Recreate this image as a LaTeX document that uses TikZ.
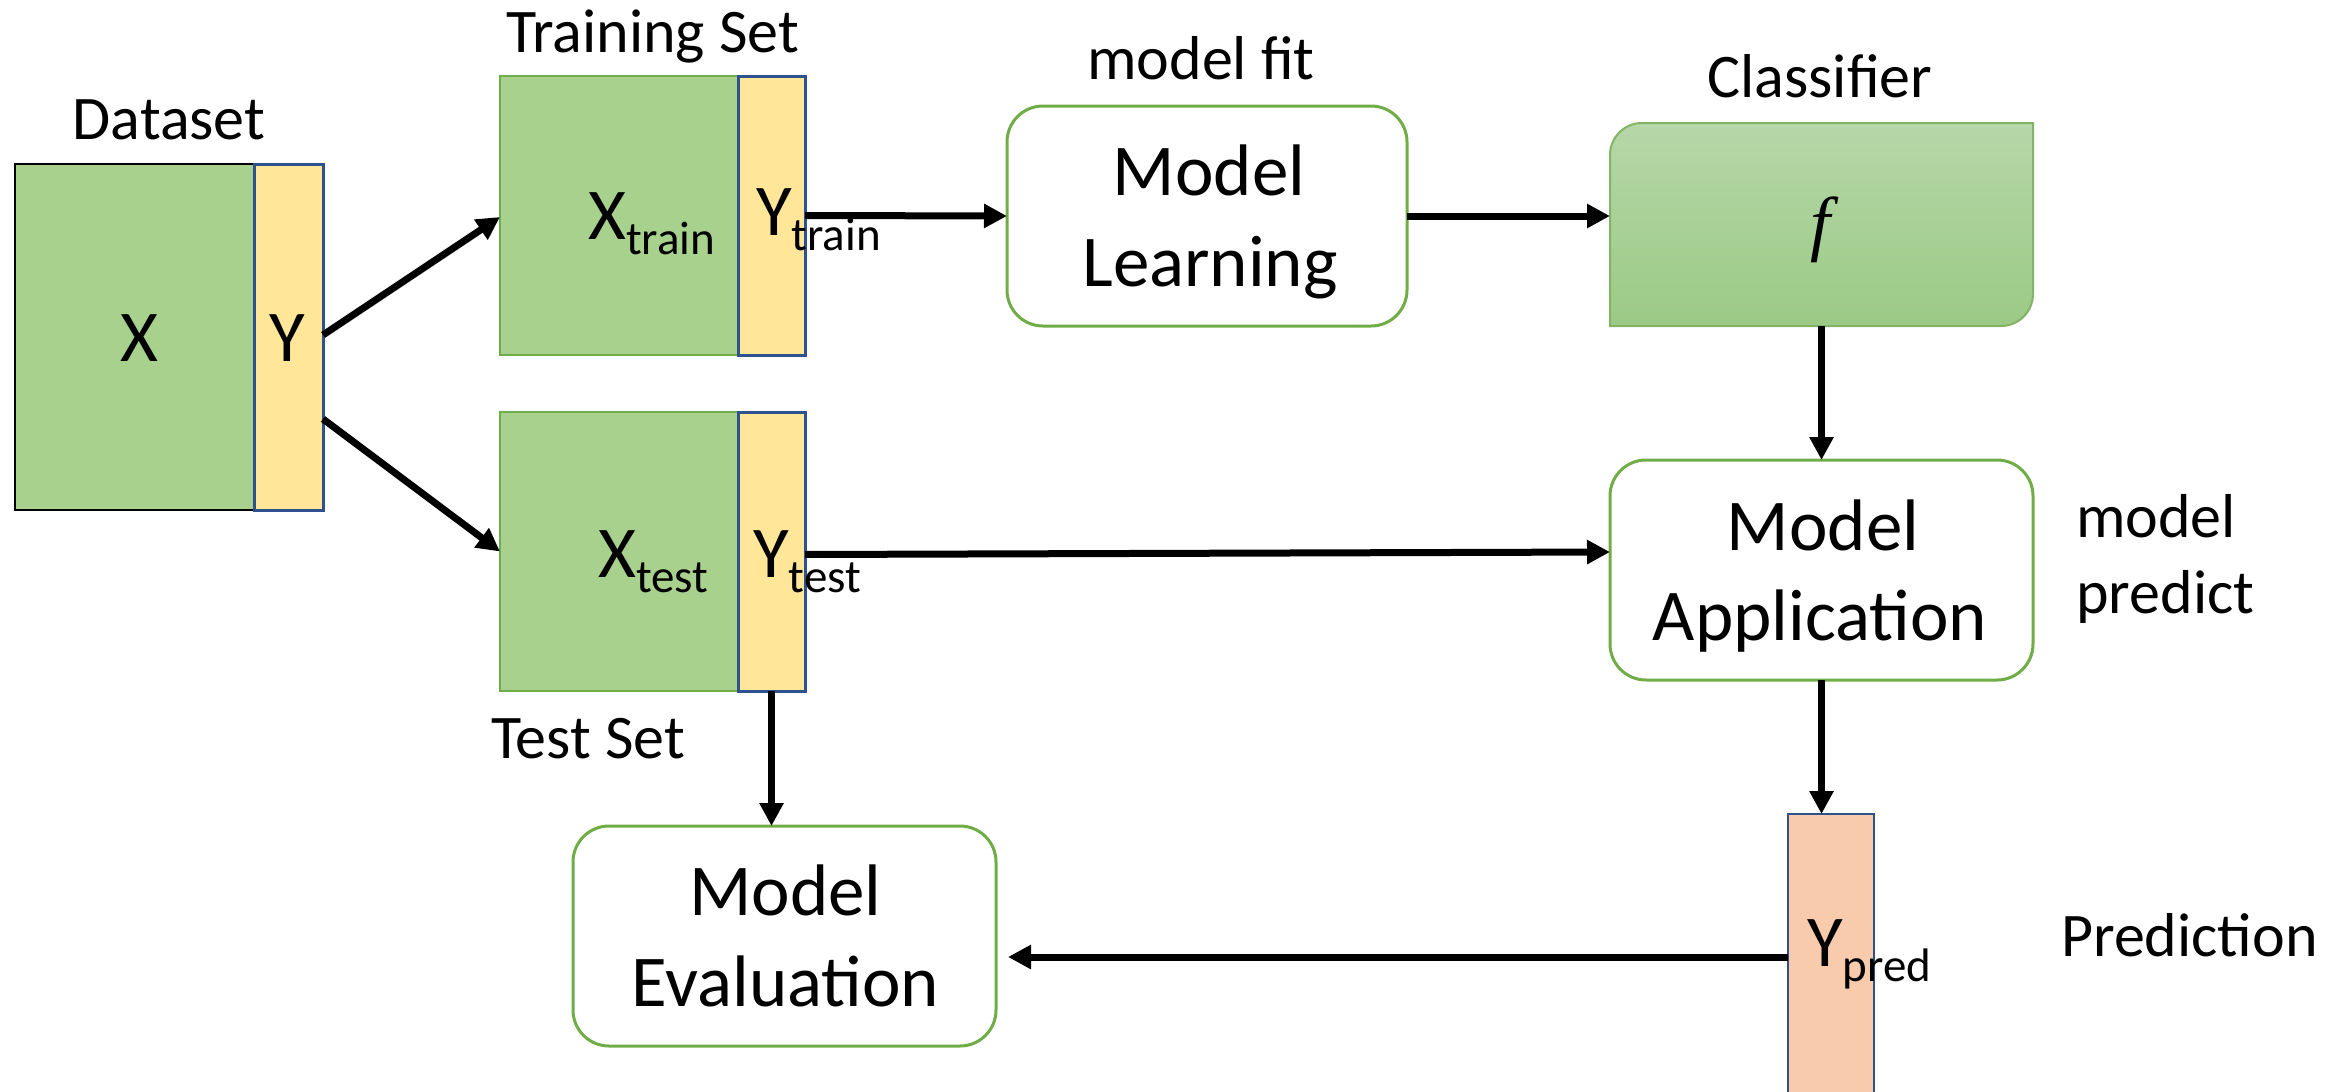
\documentclass[tikz,border=0pt]{standalone}
\usepackage{fontspec}
\setmainfont{Carlito}
\newfontfamily\ffont{Liberation Serif}
\usetikzlibrary{arrows.meta,calc}
\definecolor{gfill}{HTML}{A9D18E}
\definecolor{gline}{HTML}{70AD47}
\definecolor{yfill}{HTML}{FFE699}
\definecolor{bline}{HTML}{2F528F}
\definecolor{pfill}{HTML}{F8CBAD}
\definecolor{cltop}{HTML}{B6D7A8}
\definecolor{clbot}{HTML}{9BCA85}
\definecolor{clline}{HTML}{82B366}
\newcommand\sbs[1]{\raisebox{-15pt}{\fontsize{47}{47}\selectfont #1}}
\begin{document}
\begin{tikzpicture}[x=1pt,y=-1pt,
 gbox/.style={draw=gline,fill=gfill,line width=2pt,inner sep=0pt,outer sep=0pt},
 ybox/.style={draw=bline,fill=yfill,line width=3pt,inner sep=0pt,outer sep=0pt},
 mbox/.style={draw=gline,fill=white,line width=3pt,rounded corners=36pt,inner sep=0pt,outer sep=0pt,minimum width=423pt,minimum height=220pt},
 big/.style={font=\fontsize{73}{90}\selectfont,inner sep=0pt,anchor=base},
 lab/.style={font=\fontsize{62}{76}\selectfont,inner sep=0pt,anchor=base},
 arr/.style={line width=7pt,-{Triangle[length=23pt,width=23pt]}}]
\useasboundingbox (0,0) rectangle (2346,1092);

% Dataset
\node[gbox,draw=black,line width=1.5pt,minimum width=239pt,minimum height=346pt] (dsX) at (134.5,337) {};
\node[ybox,minimum width=69pt,minimum height=346pt] (dsY) at (288.5,337) {};
\node[big] (dsXt) at (139,361) {X};
\node[big] (dsYt) at (287,361) {Y};
\node[lab] (dsL) at (169,139) {Dataset};

% Training set
\node[gbox,minimum width=238pt,minimum height=279pt] (trX) at (619,215.5) {};
\node[ybox,minimum width=67pt,minimum height=279pt] (trY) at (771.5,215.5) {};
\node[big,anchor=base west] (trXt) at (588,239) {X\sbs{train}};
\node[big,anchor=base west] (trYt) at (756,235) {Y\sbs{train}};
\node[lab] (trL) at (652.5,52) {Training Set};

% Test set
\node[gbox,minimum width=238pt,minimum height=279pt] (teX) at (619,551.5) {};
\node[ybox,minimum width=67pt,minimum height=279pt] (teY) at (771.5,551.5) {};
\node[big,anchor=base west] (teXt) at (598,577) {X\sbs{test}};
\node[big,anchor=base west] (teYt) at (753,577) {Y\sbs{test}};
\node[lab] (teL) at (588,758) {Test Set};

% Model Learning
\node[mbox,minimum width=400pt] (ML) at (1207,216) {};
\node[big] (ML1) at (1209,195) {Model};
\node[big] (ML2) at (1210,286) {Learning};
\node[lab] (MLl) at (1201,79) {model fit};

% Classifier
\node[inner sep=0pt,outer sep=0pt,minimum width=423pt,minimum height=203pt] (CL) at (1821.5,224.5) {};
\shade[top color=cltop,bottom color=clbot,draw=clline,line width=2pt]
  (CL.south west) -- ($(CL.north west)+(0,32)$) arc[start angle=180,end angle=90,radius=32pt]
  -- (CL.north east) -- ($(CL.south east)+(0,-32)$) arc[start angle=0,end angle=-90,radius=32pt] -- cycle;
\node[inner sep=0pt,anchor=base,font=\ffont\itshape\fontsize{72}{72}\selectfont] (CLf) at (1820,247) {f};
\node[lab] (CLl) at (1820,97) {Classifier};

% Model Application
\node[mbox] (MA) at (1821.5,570) {};
\node[big] (MA1) at (1823,550) {Model};
\node[big] (MA2) at (1820,640) {Application};
\node[lab,anchor=base west] (MAl1) at (2076,537) {model};
\node[lab,anchor=base west] (MAl2) at (2076,613) {predict};

% Prediction
\node[draw=bline,fill=pfill,line width=2pt,inner sep=0pt,outer sep=0pt,minimum width=86pt,minimum height=286pt] (YP) at (1831,957) {};
\node[big,anchor=base west] (YPt) at (1807,966) {Y\sbs{pred}};
\node[lab,anchor=base west] (YPl) at (2061,956) {Prediction};

% Model Evaluation
\node[mbox] (ME) at (784.5,936) {};
\node[big] (ME1) at (785.5,915) {Model};
\node[big] (ME2) at (785.5,1006) {Evaluation};

% Connectors
\draw[arr] ([yshift=2pt]dsY.east) -- ([yshift=-1.5pt]trX.west);
\draw[arr] ([yshift=-82pt]dsY.east) -- (teX.west);
\draw[arr] (trY.east) -- (ML.west);
\draw[arr] (ML.east) -- (ML.east -| CL.west);
\draw[arr] (CL.south) -- (MA.north);
\draw[arr] ([yshift=-3pt]teY.east) -- ([yshift=18pt]MA.west);
\draw[arr] (MA.south) -- (MA.south |- YP.north);
\draw[arr,shorten >=12pt] (YP.west) -- (YP.west -| ME.east);
\draw[arr] (teY.south) -- (teY.south |- ME.north);
\end{tikzpicture}
\end{document}
